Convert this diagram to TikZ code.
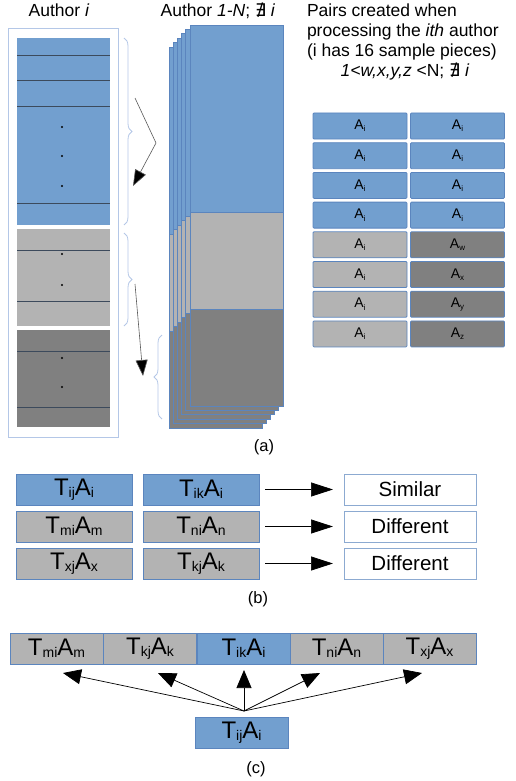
\documentclass[tikz,border=0pt]{standalone}
\usepackage{fontspec}
\setmainfont{Liberation Sans}
\newfontfamily\djv{DejaVu Sans}
\usetikzlibrary{arrows.meta,decorations.pathreplacing}
\definecolor{bfill}{HTML}{729FCF}
\definecolor{bedge}{HTML}{5B85BE}
\definecolor{lgray}{HTML}{B3B3B3}
\definecolor{dgray}{HTML}{808080}
\definecolor{lblue}{HTML}{B4C7E7}
\definecolor{sline}{HTML}{3C4A5C}
\newcommand\sbx[1]{\raisebox{-0.15ex}{\fontsize{14}{14}\selectfont #1}}
\newcommand\tsb[1]{\raisebox{-0.3ex}{\fontsize{8}{8}\selectfont #1}}
\newcommand\TA[2]{T\sbx{#1}A\sbx{#2}}
\newcommand\Asb[1]{A\tsb{#1}}
\tikzset{
  x=1pt,y=-1pt,
  every node/.style={inner sep=0pt,outer sep=0pt},
  ttl/.style={font=\fontsize{17.5}{20}\selectfont},
  cell/.style={draw=bedge,line width=0.8pt,minimum width=94pt,minimum height=26pt,rounded corners=1pt,font=\fontsize{14}{14}\selectfont},
  bcell/.style={cell,fill=bfill},
  lcell/.style={cell,fill=lgray},
  dcell/.style={cell,fill=dgray},
  big/.style={draw=bedge,line width=0.8pt,minimum width=116pt,minimum height=31pt,font=\fontsize{24}{24}\selectfont},
  cbox/.style={draw=bedge,line width=0.8pt,minimum width=93pt,minimum height=31pt,font=\fontsize{24}{24}\selectfont},
  res/.style={draw=bedge!70,line width=0.8pt,fill=white,minimum width=132pt,minimum height=31pt,font=\fontsize{20.5}{20.5}\selectfont},
  brc/.style={draw=lblue,line width=0.8pt,decorate,decoration={brace,amplitude=8pt}},
  arr/.style={-{Triangle[length=22pt,width=14pt]},line width=0.7pt},
  arrc/.style={-{Triangle[length=18pt,width=15pt]},line width=0.7pt},
  sep/.style={draw=sline,line width=0.9pt},
  pg/.style={draw=bedge,line width=0.7pt},
  capt/.style={font=\fontsize{16.5}{16.5}\selectfont}
}
\begin{document}
\begin{tikzpicture}
\useasboundingbox (0,0) rectangle (516,781);
% ---------- (a) ----------
\node[ttl,anchor=base] (tA) at (59,17) {Author \textit{i}};
\node[ttl,anchor=base] (tB) at (218,17) {Author \textit{1-N}; {\djv\itshape ∄} \textit{i}};
\node[ttl,anchor=base west] (tC1) at (307,17) {Pairs created when};
\node[ttl,anchor=base west] (tC2) at (307,37) {processing the \textit{ith} author};
\node[ttl,anchor=base west] (tC3) at (307,57) {(i has 16 sample pieces)};
\node[ttl,anchor=base] (tD) at (405,77) {\textit{1<w,x,y,z} <N; {\djv\itshape ∄} \textit{i}};

% author i box
\draw[lblue,line width=1pt] (8,29) rectangle (118,437);
\fill[bfill] (17,38) rectangle (110,225);
\fill[lgray] (17,229) rectangle (110,326);
\fill[dgray] (17,330) rectangle (110,427);
\foreach \y in {55,80,106,203,250,301,351,407}
  \draw[sep] (17,\y) -- (110,\y);
\foreach \y in {127,156,186,254,285,358,387}
  \fill[black] (62,\y) circle (1.1pt);

% braces
\draw[brc] (124,38) -- (124,225);
\draw[brc] (124,233) -- (124,326);
\draw[brc] (162,419) -- (162,335);

% arrows
\coordinate (a1s) at (135,98);
\coordinate (a1m) at (156,143);
\coordinate (a1e) at (133,186);
\draw[gray!70!black,line width=0.6pt,-{Triangle[length=16pt,width=12pt,fill=black]}] (a1s) -- (a1m) -- (a1e);
\coordinate (a2s) at (135,284);
\coordinate (a2e) at (143,376);
\draw[gray!70!black,line width=0.6pt,-{Triangle[length=16pt,width=12pt,fill=black]}] (a2s) -- (a2e);

% stacked pages (back to front)
\foreach \k in {5,4,3,2,1,0}{
  \pgfmathsetmacro\xl{190-4.2*\k}
  \pgfmathsetmacro\xr{283-4.2*\k}
  \pgfmathsetmacro\ya{25+4.4*\k}
  \pgfmathsetmacro\yb{212+4.4*\k}
  \pgfmathsetmacro\yc{309+4.4*\k}
  \pgfmathsetmacro\yd{406+4.4*\k}
  \draw[pg,fill=bfill] (\xl,\ya) rectangle (\xr,\yb);
  \draw[pg,fill=lgray] (\xl,\yb) rectangle (\xr,\yc);
  \draw[pg,fill=dgray] (\xl,\yc) rectangle (\xr,\yd);
}
\node[capt] (la) at (264,447) {(a)};

% pair table
\foreach \r/\sa/\sb/\ca/\cb in {0/i/i/bcell/bcell,1/i/i/bcell/bcell,2/i/i/bcell/bcell,3/i/i/bcell/bcell,4/i/w/lcell/dcell,5/i/x/lcell/dcell,6/i/y/lcell/dcell,7/i/z/lcell/dcell}{
  \node[\ca] (p\r a) at (360,126+29.7*\r) {\Asb{\sa}};
  \node[\cb] (p\r b) at (457.5,126+29.7*\r) {\Asb{\sb}};
}

% ---------- (b) ----------
\node[big,fill=bfill] (b1a) at (74,489.5) {\TA{ij}{i}};
\node[big,fill=bfill] (b1b) at (201,489.5) {\TA{ik}{i}};
\node[big,fill=lgray] (b2a) at (74,526.5) {\TA{mi}{m}};
\node[big,fill=lgray] (b2b) at (201,526.5) {\TA{ni}{n}};
\node[big,fill=lgray] (b3a) at (74,563.5) {\TA{xj}{x}};
\node[big,fill=lgray] (b3b) at (201,563.5) {\TA{kj}{k}};
\node[res] (r1) at (410,489.5) {Similar};
\node[res] (r2) at (410,526.5) {Different};
\node[res] (r3) at (410,563.5) {Different};
\draw[arr] ([xshift=6pt]b1b.east) -- ([xshift=-11pt]r1.west);
\draw[arr] ([xshift=6pt]b2b.east) -- ([xshift=-11pt]r2.west);
\draw[arr] ([xshift=6pt]b3b.east) -- ([xshift=-11pt]r3.west);
\node[capt] (lb) at (258,599) {(b)};

% ---------- (c) ----------
\node[cbox,fill=lgray] (c1) at (56.5,648.5) {\TA{mi}{m}};
\node[cbox,fill=lgray] (c2) at (150,648.5) {\TA{kj}{k}};
\node[cbox,fill=bfill] (c3) at (243.5,648.5) {\TA{ik}{i}};
\node[cbox,fill=lgray] (c4) at (336.5,648.5) {\TA{ni}{n}};
\node[cbox,fill=lgray] (c5) at (429.5,648.5) {\TA{xj}{x}};
\node[cbox,fill=bfill] (c0) at (241.5,733) {\TA{ij}{i}};
\coordinate (cs) at (244,711);
\coordinate (t1) at (63,673);
\coordinate (t2) at (158,673);
\coordinate (t3) at (244,670);
\coordinate (t4) at (320,673);
\coordinate (t5) at (422,673);
\foreach \t in {t1,t2,t3,t4,t5}
  \draw[arrc] (cs) -- (\t);
\node[capt] (lc) at (256,769) {(c)};
\end{tikzpicture}
\end{document}
